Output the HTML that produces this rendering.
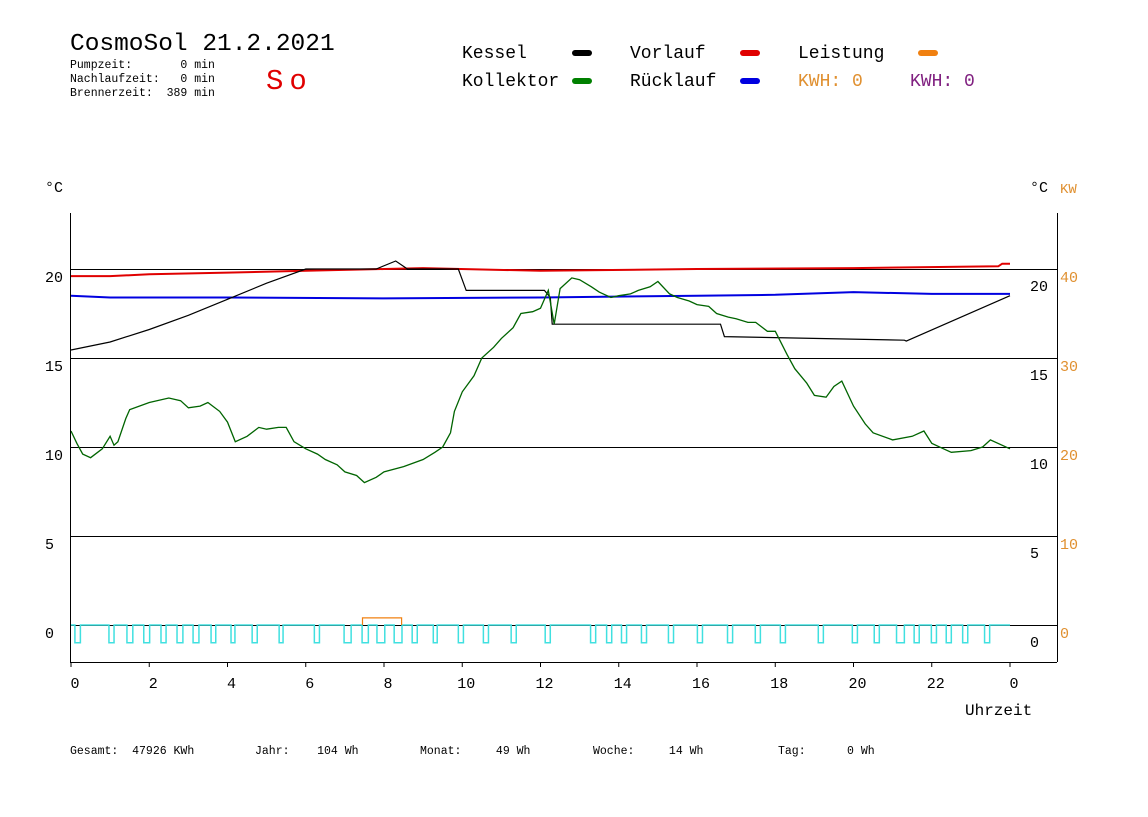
<!DOCTYPE html>
<html><head><meta charset="utf-8"><style>
body{margin:0;background:#fff;width:1148px;height:812px;overflow:hidden}
text{font-family:"Liberation Mono",monospace}
</style></head><body>
<svg id="chart" width="1148" height="812" xmlns="http://www.w3.org/2000/svg">
<text x="70" y="50" font-size="24.5">CosmoSol 21.2.2021</text>
<text x="70" y="68" font-size="11.5" xml:space="preserve">Pumpzeit:       0 min</text>
<text x="70" y="82" font-size="11.5" xml:space="preserve">Nachlaufzeit:   0 min</text>
<text x="70" y="96" font-size="11.5" xml:space="preserve">Brennerzeit:  389 min</text>
<text x="266" y="89" font-size="29" letter-spacing="6" fill="#e00000">So</text>
<g font-size="18">
<text x="462" y="58">Kessel</text><rect x="572" y="50" width="20" height="6" rx="3" fill="#000"/>
<text x="630" y="58">Vorlauf</text><rect x="740" y="50" width="20" height="6" rx="3" fill="#e00000"/>
<text x="798" y="58">Leistung</text><rect x="918" y="50" width="20" height="6" rx="3" fill="#f08010"/>
<text x="462" y="86">Kollektor</text><rect x="572" y="78" width="20" height="6" rx="3" fill="#008000"/>
<text x="630" y="86">Rücklauf</text><rect x="740" y="78" width="20" height="6" rx="3" fill="#0000e0"/>
<text x="798" y="86" fill="#e09030">KWH: 0</text>
<text x="910" y="86" fill="#802080">KWH: 0</text>
</g>
<text x="45" y="192" font-size="15">°C</text>
<text x="1030" y="192" font-size="15">°C</text>
<text x="1060" y="193" font-size="14" fill="#e09030">KW</text>
<g id="grid"></g><g id="series"></g><g id="axes"></g>
<text x="965" y="715" font-size="16">Uhrzeit</text>
<g font-size="11.5">
<text x="70" y="754" xml:space="preserve">Gesamt:  47926 KWh</text>
<text x="255" y="754" xml:space="preserve">Jahr:    104 Wh</text>
<text x="420" y="754" xml:space="preserve">Monat:     49 Wh</text>
<text x="593" y="754" xml:space="preserve">Woche:     14 Wh</text>
<text x="778" y="754" xml:space="preserve">Tag:      0 Wh</text>
</g>
</svg>
<script>
const xTicks=[0,2,4,6,8,10,12,14,16,18,20,22,24];
const xTickLabels=["0","2","4","6","8","10","12","14","16","18","20","22","0"];
const yTicks=[0,5,10,15,20];
const kwTicks=[0,10,20,30,40];
const kesselH=[0,1,2,3,4,5,6,7.8,8.3,8.6,9.9,10.1,12.1,12.25,12.3,16.6,16.7,21.3,21.35,24];
const kesselV=[15.45,15.9,16.6,17.4,18.3,19.2,20.0,20.0,20.45,20.0,20.0,18.8,18.8,18.4,16.9,16.9,16.2,16.0,15.95,18.5];
const vorlaufH=[0,1,2,4,6,8,9,12,16,20,23.7,23.8,24];
const vorlaufV=[19.6,19.6,19.7,19.8,19.9,20.0,20.05,19.9,20.0,20.05,20.15,20.3,20.3];
const ruecklaufH=[0,1,4,8,12,16,18,20,22,24];
const ruecklaufV=[18.5,18.4,18.4,18.35,18.4,18.5,18.55,18.7,18.6,18.6];
const kollH=[0,0.15,0.3,0.5,0.8,1,1.1,1.2,1.4,1.5,2,2.5,2.8,3,3.3,3.5,3.8,4,4.2,4.5,4.8,5,5.3,5.5,5.7,6,6.3,6.5,6.8,7,7.3,7.5,7.8,8,8.5,9,9.3,9.5,9.7,9.8,10,10.3,10.5,10.8,11,11.3,11.5,11.8,12,12.2,12.35,12.5,12.8,13,13.3,13.5,13.8,14,14.3,14.5,14.8,15,15.3,15.5,15.8,16,16.3,16.5,16.8,17,17.3,17.5,17.8,18,18.3,18.5,18.8,19,19.3,19.5,19.7,20,20.3,20.5,21,21.5,21.8,22,22.3,22.5,23,23.3,23.5,24];
const kollV=[10.9,10.2,9.6,9.4,9.9,10.6,10.1,10.3,11.6,12.1,12.5,12.75,12.6,12.2,12.3,12.5,12.0,11.4,10.3,10.6,11.1,11.0,11.1,11.1,10.3,9.9,9.6,9.3,9.0,8.6,8.4,8.0,8.3,8.6,8.9,9.3,9.7,10.0,10.8,12.0,13.1,14.0,15.0,15.6,16.1,16.7,17.5,17.6,17.8,18.8,16.9,18.9,19.5,19.4,19.0,18.7,18.4,18.5,18.6,18.8,19.0,19.3,18.6,18.4,18.2,18.0,17.9,17.5,17.3,17.2,17.0,17.0,16.5,16.5,15.2,14.4,13.6,12.9,12.8,13.4,13.7,12.3,11.3,10.8,10.4,10.6,10.9,10.2,9.9,9.7,9.8,10.0,10.4,9.9];
const pulseStart=[0.1,0.97,1.43,1.86,2.3,2.71,3.12,3.58,4.09,4.63,5.32,6.22,6.98,7.44,7.82,8.26,8.72,9.26,9.9,10.54,11.25,12.12,13.28,13.69,14.07,14.58,15.27,16.01,16.78,17.49,18.13,19.1,19.97,20.53,21.1,21.55,21.99,22.37,22.79,23.35];
const pulseLen=[0.14,0.13,0.15,0.15,0.13,0.15,0.15,0.12,0.1,0.13,0.1,0.13,0.18,0.16,0.2,0.2,0.13,0.1,0.13,0.13,0.13,0.13,0.13,0.13,0.13,0.13,0.13,0.13,0.13,0.13,0.13,0.13,0.13,0.13,0.2,0.13,0.13,0.13,0.13,0.13];
const leistH=[7.45,7.45,8.45,8.45];
const leistV=[0,0.8,0.8,0];

const X=h=>71+h*39.125, Y=v=>625-v*17.8, YK=k=>625-k*8.9;
const NS="http://www.w3.org/2000/svg";
function mk(p,t,a){const e=document.createElementNS(NS,t);for(const k in a)e.setAttribute(k,a[k]);document.getElementById(p).appendChild(e);return e;}
yTicks.forEach((v,i)=>{
 const l=mk('grid','line',{x1:70,x2:1057,y1:Y(v)+.5,y2:Y(v)+.5,stroke:'#000','stroke-width':1});
 
 
 const t=mk('grid','text',{x:45,y:Y(v)+13,'font-size':15});t.textContent=v;
 
 
 const t2=mk('grid','text',{x:1030,y:Y(v)+22,'font-size':15});t2.textContent=v;
 
 
});
kwTicks.forEach(k=>{const t=mk('grid','text',{x:1060,y:YK(k)+13,'font-size':15,fill:'#e09030'});t.textContent=k;
 
 });
function step(H,V,yf){let d='';for(let i=0;i<H.length;i++){d+=(i?'L':'M')+X(H[i]).toFixed(1)+' '+yf(V[i]).toFixed(1);}return d;}
function line(H,V,c,w,name){const p=mk('series','path',{d:step(H,V,Y),fill:'none',stroke:c,'stroke-width':w});
 
 }
line(vorlaufH,vorlaufV,'#e00000',2,'vorlauf-line');
line(ruecklaufH,ruecklaufV,'#0000e0',2,'ruecklauf-line');
line(kesselH,kesselV,'#000',1.2,'kessel-line');
line(kollH,kollV,'#006400',1.3,'kollektor-line');
let d='M'+X(0)+' '+Y(0);
pulseStart.forEach((s,i)=>{const a=X(s),b=X(s+pulseLen[i]);d+=`L${a} ${Y(0)}L${a} ${Y(-1)}L${b} ${Y(-1)}L${b} ${Y(0)}`;});
d+='L'+X(24)+' '+Y(0);
const pl=mk('series','path',{d:d,fill:'none',stroke:'#40e0e0','stroke-width':1.5});


mk('series','line',{x1:X(24),x2:1057,y1:Y(0)+.5,y2:Y(0)+.5,stroke:'#000'});
const lp=mk('series','path',{d:step(leistH,leistV,YK),fill:'none',stroke:'#f08010','stroke-width':1.2});


mk('axes','line',{x1:70.5,x2:70.5,y1:213,y2:662,stroke:'#000'});
mk('axes','line',{x1:1057.5,x2:1057.5,y1:213,y2:662,stroke:'#000'});
mk('axes','line',{x1:70,x2:1057,y1:662.5,y2:662.5,stroke:'#000'});
xTicks.forEach((h,i)=>{mk('axes','line',{x1:X(h),x2:X(h),y1:662,y2:667,stroke:'#000'});
 const t=mk('axes','text',{x:X(h)-4.5*xTickLabels[i].length+4,y:688,'font-size':15});t.textContent=xTickLabels[i];
 
 });
</script>
</body></html>
